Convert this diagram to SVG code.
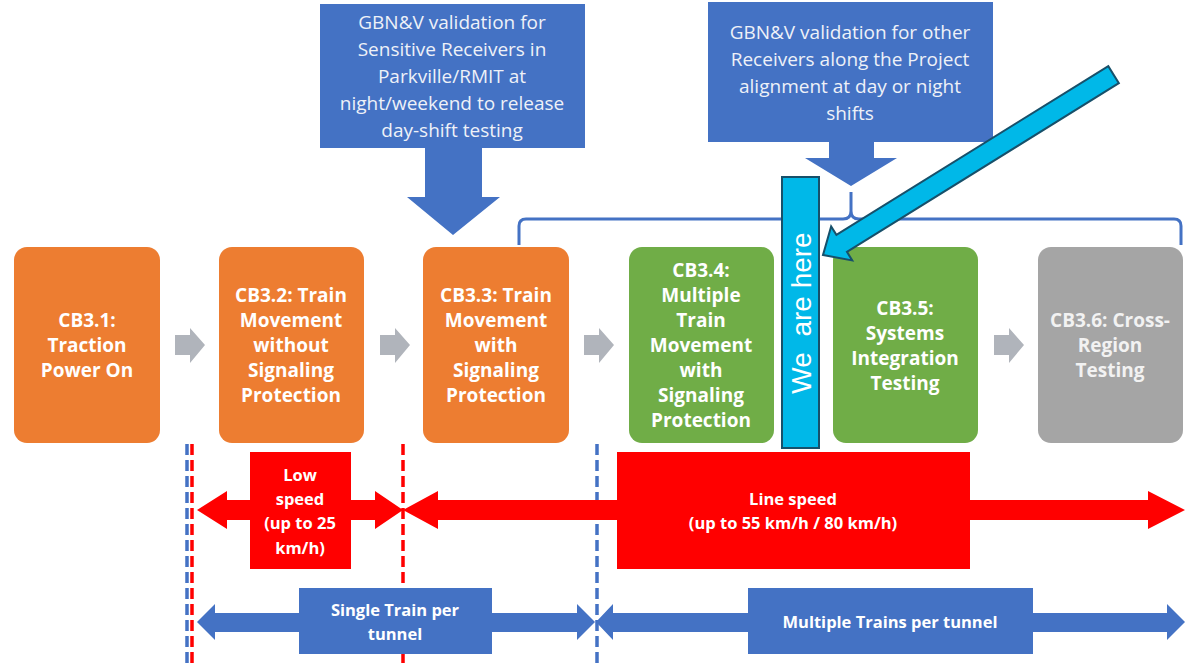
<svg xmlns="http://www.w3.org/2000/svg" width="1192" height="666" viewBox="0 0 1192 666">
<style>
.node text{font-family:"Open Sans","Liberation Sans",sans-serif;font-weight:700;font-size:19px;fill:#ffffff;text-anchor:middle}
.callout text{font-family:"Open Sans","Liberation Sans",sans-serif;font-size:19px;fill:#EEF1F8;text-anchor:middle}
.lbl{font-family:"Open Sans","Liberation Sans",sans-serif;font-weight:700;font-size:16.5px;fill:#ffffff;text-anchor:middle}
.orange{fill:#ED7D31}
.green{fill:#70AD47}
.grey{fill:#A5A5A5}
.blue{fill:#4472C4}
.red{fill:#FF0000}
.step{fill:#B0B4BB}
.dash{stroke-width:3.5;stroke-dasharray:11 5;fill:none}
</style>
<rect width="1192" height="666" fill="#ffffff"/>

<!-- callouts -->
<g id="callout-parkville" class="callout">
<rect class="blue" x="320" y="4" width="265" height="144"/>
<polygon class="blue" points="425,147 482,147 482,197 500,197 453,235 407,197 425,197"/>
<text x="452" y="29">GBN&amp;V validation for</text>
<text x="452" y="56">Sensitive Receivers in</text>
<text x="452" y="83">Parkville/RMIT at</text>
<text x="452" y="110">night/weekend to release</text>
<text x="452" y="137">day-shift testing</text>
</g>
<g id="callout-other" class="callout">
<rect class="blue" x="708" y="2" width="285" height="140"/>
<polygon class="blue" points="829,141 874,141 874,158 897,158 851,186 805,158 829,158"/>
<text x="850" y="39">GBN&amp;V validation for other</text>
<text x="850" y="66">Receivers along the Project</text>
<text x="850" y="93">alignment at day or night</text>
<text x="850" y="120">shifts</text>
</g>

<!-- connectors -->
<g id="connectors">
<path d="M519,245 V226 Q519,219 526,219 H843 Q851,219 851,211 V192 M851,192 V211 Q851,219 859,219 H1174 Q1181,219 1181,226 V245" fill="none" stroke="#4472C4" stroke-width="3"/>
<polygon class="step" points="175,335 190,335 190,328 205,345 190,363 190,355 175,355"/>
<polygon class="step" points="380,335 395,335 395,328 410,345 395,363 395,355 380,355"/>
<polygon class="step" points="584,335 599,335 599,328 614,345 599,363 599,355 584,355"/>
<polygon class="step" points="994,335 1009,335 1009,328 1024,345 1009,363 1009,355 994,355"/>
<line class="dash" x1="187" y1="444" x2="187" y2="666" stroke="#4472C4"/>
<line class="dash" x1="192" y1="444" x2="192" y2="666" stroke="#FF0000"/>
<line class="dash" x1="403" y1="444" x2="403" y2="666" stroke="#FF0000"/>
<line class="dash" x1="597" y1="444" x2="597" y2="666" stroke="#4472C4"/>
</g>

<!-- stage nodes -->
<g id="cb31" class="node">
<rect class="orange" x="14" y="247" width="146" height="196" rx="13"/>
<text x="87" y="327">CB3.1:</text>
<text x="87" y="352">Traction</text>
<text x="87" y="377">Power On</text>
</g>
<g id="cb32" class="node">
<rect class="orange" x="219" y="247" width="145" height="196" rx="13"/>
<text x="291" y="302">CB3.2: Train</text>
<text x="291" y="327">Movement</text>
<text x="291" y="352">without</text>
<text x="291" y="377">Signaling</text>
<text x="291" y="402">Protection</text>
</g>
<g id="cb33" class="node">
<rect class="orange" x="423" y="247" width="146" height="196" rx="13"/>
<text x="496" y="302">CB3.3: Train</text>
<text x="496" y="327">Movement</text>
<text x="496" y="352">with</text>
<text x="496" y="377">Signaling</text>
<text x="496" y="402">Protection</text>
</g>
<g id="cb34" class="node">
<rect class="green" x="629" y="247" width="145" height="196" rx="13"/>
<text x="701" y="277">CB3.4:</text>
<text x="701" y="302">Multiple</text>
<text x="701" y="327">Train</text>
<text x="701" y="352">Movement</text>
<text x="701" y="377">with</text>
<text x="701" y="402">Signaling</text>
<text x="701" y="427">Protection</text>
</g>
<g id="cb35" class="node">
<rect class="green" x="833" y="247" width="145" height="196" rx="13"/>
<text x="905" y="315">CB3.5:</text>
<text x="905" y="340">Systems</text>
<text x="905" y="365">Integration</text>
<text x="905" y="390">Testing</text>
</g>
<g id="cb36" class="node">
<rect class="grey" x="1038" y="247" width="145" height="196" rx="13"/>
<text x="1110" y="327" style="fill:#F2F2F2">CB3.6: Cross-</text>
<text x="1110" y="352" style="fill:#F2F2F2">Region</text>
<text x="1110" y="377" style="fill:#F2F2F2">Testing</text>
</g>

<!-- speed bands -->
<g id="low-speed">
<polygon class="red" points="197,510 227,491 227,500 375,500 375,491 403,510 375,529 375,520 227,520 227,529"/>
<rect class="red" x="250" y="452" width="101" height="117"/>
<text class="lbl" x="300" y="481">Low</text>
<text class="lbl" x="300" y="505">speed</text>
<text class="lbl" x="300" y="529">(up to 25</text>
<text class="lbl" x="300" y="554">km/h)</text>
</g>
<g id="line-speed">
<polygon class="red" points="403,510 438,491 438,500 1148,500 1148,491 1185,510 1148,529 1148,520 438,520 438,529"/>
<rect class="red" x="617" y="452" width="353" height="117"/>
<text class="lbl" x="793" y="505">Line speed</text>
<text class="lbl" x="793" y="529">(up to 55 km/h / 80 km/h)</text>
</g>
<g id="single-train">
<polygon class="blue" points="197,622 215,604 215,613 577,613 577,604 595,622 577,640 577,632 215,632 215,640"/>
<rect class="blue" x="299" y="588" width="193" height="66"/>
<text class="lbl" x="395" y="616">Single Train per</text>
<text class="lbl" x="395" y="640">tunnel</text>
</g>
<g id="multiple-trains">
<polygon class="blue" points="596,622 613,604 613,613 1167,613 1167,604 1185,622 1167,640 1167,632 613,632 613,640"/>
<rect class="blue" x="748" y="588" width="285" height="66"/>
<text class="lbl" x="890" y="628">Multiple Trains per tunnel</text>
</g>

<!-- we are here marker -->
<g id="we-are-here">
<rect x="782" y="177" width="37" height="271" fill="#00B8E8" stroke="#17506A" stroke-width="2"/>
<text transform="translate(811,313) rotate(-90)" x="0" y="0" xml:space="preserve" style="font-family:'Liberation Sans',Arial,sans-serif;font-size:28px;fill:#ffffff;text-anchor:middle">We  are here</text>
</g>
<g id="pointer-arrow">
<polygon transform="translate(823,255) rotate(148.17)" points="0,0 -22,-20 -22,-10 -342,-10 -342,10 -22,10 -22,20" fill="#00B8E8" stroke="#17506A" stroke-width="2" stroke-linejoin="miter"/>
</g>
</svg>
